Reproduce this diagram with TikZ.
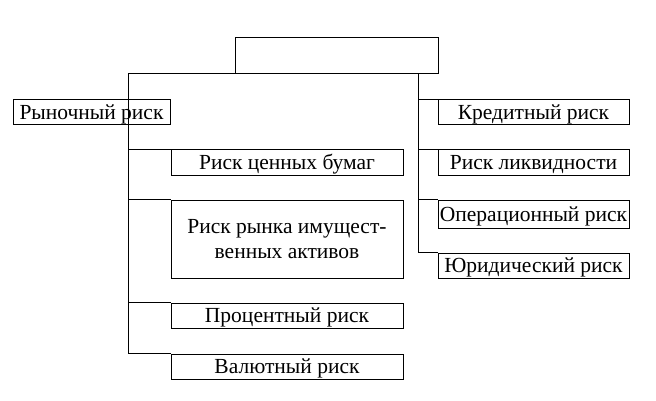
\documentclass[tikz,border=0pt]{standalone}
\usepackage{fontspec}
\setmainfont{Liberation Serif}
\begin{document}
\begin{tikzpicture}[x=1pt,y=-1pt,
  box/.style={draw,line width=1pt,rectangle,inner sep=0pt,font=\fontsize{21.5}{25}\selectfont,align=center},
  single/.style={box,text height=14.4pt,text depth=0pt},
  conn/.style={line width=1pt}]
\useasboundingbox (0,0) rectangle (656,401);
\node[box,minimum width=203pt,minimum height=36pt] (top) at (336.5,56) {};
\node[single,minimum width=157pt,minimum height=25pt] (mar) at (91.5,112.5) {Рыночный риск};
\node[single,minimum width=232pt,minimum height=25pt] (sec) at (287,162.5) {Риск ценных бумаг};
\node[box,minimum width=232pt,minimum height=78pt] (prop) at (287,239) {Риск рынка имущест-\\венных активов};
\node[single,minimum width=232pt,minimum height=25pt] (int) at (287,315.5) {Процентный риск};
\node[single,minimum width=232pt,minimum height=25pt] (cur) at (287,366.5) {Валютный риск};
\node[single,minimum width=191pt,minimum height=25pt] (cred) at (533.5,112.5) {Кредитный риск};
\node[single,minimum width=191pt,minimum height=25pt] (liq) at (533.5,162.5) {Риск ликвидности};
\node[single,minimum width=191pt,minimum height=28pt] (op) at (533.5,214) {Операционный риск};
\node[single,minimum width=191pt,minimum height=25pt] (jur) at (533.5,265.5) {Юридический риск};
\coordinate (L0) at (128,74);
\coordinate (R0) at (418,74);
\draw[conn] (L0) -- (R0);
\draw[conn] (L0) |- (cur.north west);
\foreach \n in {sec,prop,int} \draw[conn] (L0 |- \n.north west) -- (\n.north west);
\draw[conn] (R0) |- (jur.north west);
\foreach \n in {cred,liq,op} \draw[conn] (R0 |- \n.north west) -- (\n.north west);
\end{tikzpicture}
\end{document}
